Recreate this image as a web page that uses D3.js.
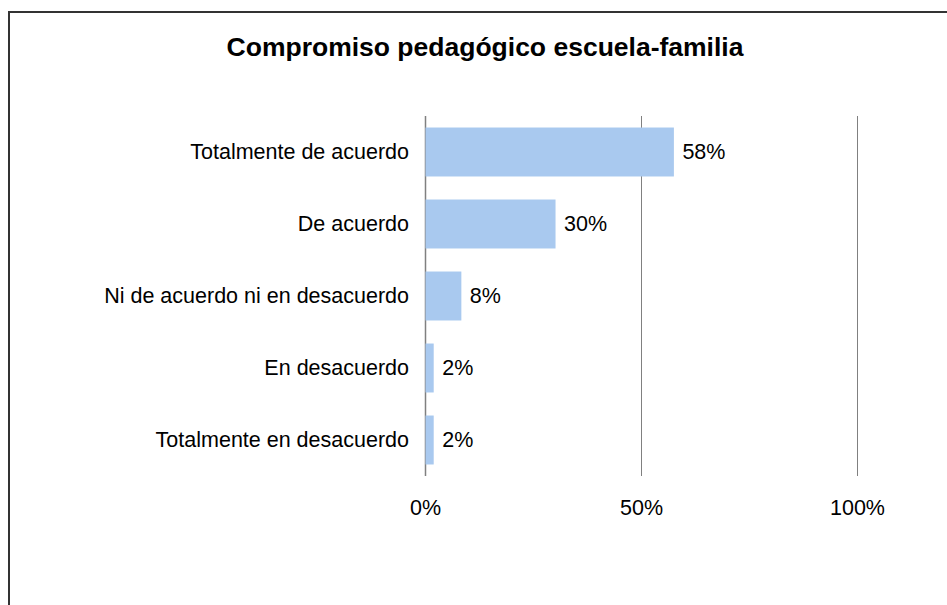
<!DOCTYPE html>
<html>
<head>
<meta charset="utf-8">
<script src="https://cdn.jsdelivr.net/npm/d3@7"></script>
<style>
    body { margin: 0; background: #fff; }
    svg text { font-family: "Liberation Sans", Arial, sans-serif; fill: #000; }
</style>
</head>
<body>
<svg id="chart" width="947" height="605"></svg>
<script>
// Data
const categories = [
    "Totalmente de acuerdo",
    "De acuerdo",
    "Ni de acuerdo ni en desacuerdo",
    "En desacuerdo",
    "Totalmente en desacuerdo"
];
const values = [57.5, 30.1, 8.3, 1.9, 1.9];
const tickValues = [0, 50, 100];
const title = "Compromiso pedagógico escuela-familia";

// Settings
const plotLeft = 425;
const plotRight = 857;
const plotTop = 116;
const plotBottom = 476;
const barColor = "#a9c9ef";
const gridColor = "#808080";

let svg = d3.select("#chart");

// outer frame (right and bottom edges fall outside the picture)
svg.append("rect")
    .attr("x", 9)
    .attr("y", 12)
    .attr("width", 1000)
    .attr("height", 1000)
    .style("fill", "#fff")
    .style("stroke", "#333")
    .style("stroke-width", 2);

svg.append("text")
    .attr("x", 485)
    .attr("y", 56)
    .attr("text-anchor", "middle")
    .style("font-size", "26.5px")
    .style("font-weight", "bold")
    .text(title);

let x = d3.scaleLinear().domain([0, 100]).range([plotLeft, plotRight]);
let y = d3.scaleBand().domain(categories).range([plotTop, plotBottom]).paddingInner(0.32).paddingOuter(0.16);

// gridlines
svg.append("g")
    .selectAll("line")
    .data(tickValues)
    .join("line")
    .attr("x1", d => x(d) + 0.5)
    .attr("x2", d => x(d) + 0.5)
    .attr("y1", plotTop)
    .attr("y2", plotBottom)
    .style("stroke", gridColor)
    .style("stroke-width", d => d === 0 ? 1.5 : 1);

// x tick labels
let xAxis = d3.axisBottom(x).tickValues(tickValues).tickSize(0).tickPadding(0).tickFormat(d => d + "%");
svg.append("g")
    .attr("transform", "translate(0," + (plotBottom + 39) + ")")
    .call(xAxis)
    .call(g => g.select(".domain").remove())
    .selectAll("text")
    .attr("dy", 0)
    .style("font-size", "21.5px")
    .style("font-family", "'Liberation Sans', Arial, sans-serif");

// bars
svg.append("g")
    .selectAll("rect")
    .data(values)
    .join("rect")
    .attr("x", x(0) + 0.5)
    .attr("y", (d, i) => y(categories[i]))
    .attr("width", d => x(d) - x(0))
    .attr("height", y.bandwidth())
    .style("fill", barColor);

// category labels
svg.append("g")
    .selectAll("text")
    .data(categories)
    .join("text")
    .attr("x", plotLeft - 16)
    .attr("y", d => y(d) + y.bandwidth() / 2)
    .attr("dy", "0.33em")
    .attr("text-anchor", "end")
    .style("font-size", "21.5px")
    .text(d => d);

// value labels
svg.append("g")
    .selectAll("text")
    .data(values)
    .join("text")
    .attr("x", d => x(d) + 9)
    .attr("y", (d, i) => y(categories[i]) + y.bandwidth() / 2)
    .attr("dy", "0.33em")
    .style("font-size", "21.5px")
    .text(d => Math.round(d) + "%");
</script>
</body>
</html>
